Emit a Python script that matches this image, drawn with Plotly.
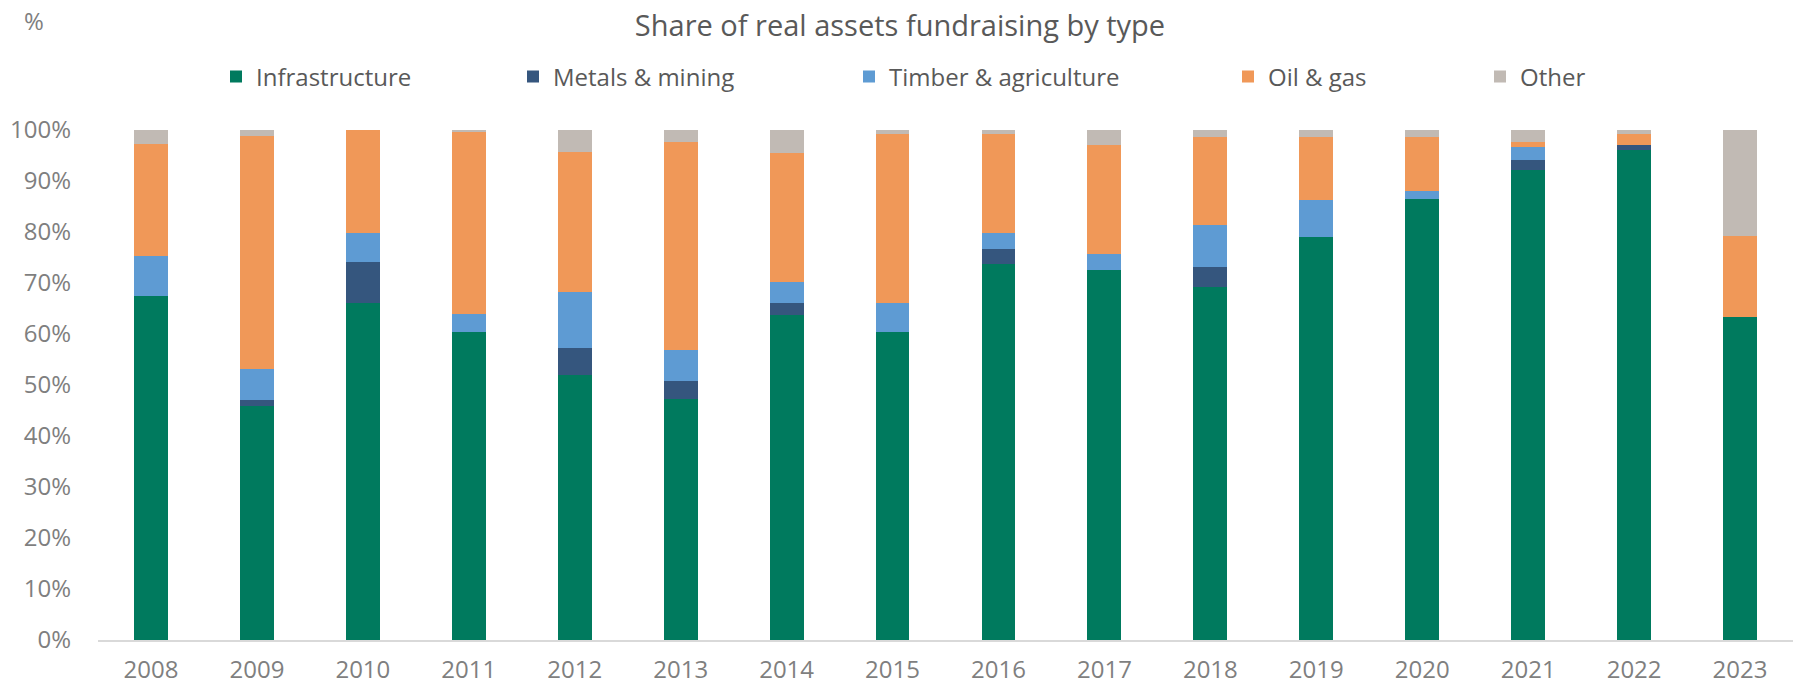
import plotly.graph_objects as go

years = ["2008", "2009", "2010", "2011", "2012", "2013", "2014", "2015",
         "2016", "2017", "2018", "2019", "2020", "2021", "2022", "2023"]

infrastructure = [67.4, 45.8, 66.1, 60.4, 51.9, 47.2, 63.7, 60.4, 73.7, 72.5, 69.2, 79.0, 86.5, 92.1, 96.1, 63.3]
metals_mining = [0.0, 1.2, 8.0, 0.0, 5.4, 3.6, 2.3, 0.0, 3.0, 0.0, 3.9, 0.0, 0.0, 2.1, 0.9, 0.0]
timber_agri = [7.8, 6.2, 5.7, 3.6, 10.9, 6.1, 4.1, 5.7, 3.1, 3.2, 8.2, 7.2, 1.6, 2.5, 0.0, 0.0]
oil_gas = [22.1, 45.7, 20.2, 35.7, 27.5, 40.7, 25.4, 33.2, 19.4, 21.3, 17.4, 12.5, 10.6, 1.0, 2.2, 16.0]
other = [2.7, 1.1, 0.0, 0.3, 4.3, 2.4, 4.5, 0.7, 0.8, 3.0, 1.3, 1.3, 1.3, 2.4, 0.8, 20.7]

series_names = ["Infrastructure", "Metals & mining", "Timber & agriculture", "Oil & gas", "Other"]
series_values = [infrastructure, metals_mining, timber_agri, oil_gas, other]
series_colors = ["#007A5E", "#35567E", "#5E9BD3", "#F09858", "#C1BAB4"]

FONT = "Open Sans"
W, H = 1801, 692
legend_centers = [238, 535, 871, 1250, 1502]
legend_ids = ["legend", "legend2", "legend3", "legend4", "legend5"]

fig = go.Figure()
for name, vals, col, lid in zip(series_names, series_values, series_colors, legend_ids):
    fig.add_trace(go.Bar(
        x=years, y=vals, name=name, marker_color=col,
        marker_line_width=0, legend=lid, showlegend=True,
    ))

layout_legends = {}
for lid, cx in zip(legend_ids, legend_centers):
    layout_legends[lid] = dict(
        xref="container", yref="container",
        x=(cx - 22) / W, xanchor="left",
        y=1 - 77 / H, yanchor="middle",
        orientation="h", bgcolor="rgba(0,0,0,0)",
        borderwidth=0, font=dict(family=FONT, size=24, color="#595959"),
        itemclick=False, itemdoubleclick=False,
    )

fig.update_layout(
    width=W, height=H,
    showlegend=True,
    barmode="stack", bargap=0.68,
    plot_bgcolor="white", paper_bgcolor="white",
    margin=dict(l=98, r=8, t=130, b=52, autoexpand=False),
    font=dict(family=FONT, color="#7F7F7F"),
    title=dict(
        text="Share of real assets fundraising by type",
        x=900 / W, xanchor="center", xref="container",
        y=1 - 26 / H, yanchor="middle", yref="container",
        font=dict(family=FONT, size=29, color="#595959"),
    ),
    xaxis=dict(
        type="category", showgrid=False, showline=True, linecolor="#D9D9D9",
        linewidth=1.5, ticks="", tickfont=dict(family=FONT, size=24, color="#7F7F7F"),
        ticklabelstandoff=7,
    ),
    yaxis=dict(
        range=[0, 100], tickmode="linear", tick0=0, dtick=10, ticksuffix="%",
        showgrid=False, zeroline=False, showline=False, ticks="",
        tickfont=dict(family=FONT, size=24, color="#7F7F7F"),
        ticklabelstandoff=26,
    ),
    annotations=[dict(
        text="%", xref="paper", yref="paper",
        x=(22 - 98) / 1695, xanchor="left",
        y=(640 - 20) / 510, yanchor="middle",
        showarrow=False, font=dict(family=FONT, size=24, color="#7F7F7F"),
    )],
    **layout_legends,
)

fig.write_html(
    "out.html",
    config={"displayModeBar": False},
    post_script="document.body.style.margin='0';document.body.style.overflow='hidden';",
)
